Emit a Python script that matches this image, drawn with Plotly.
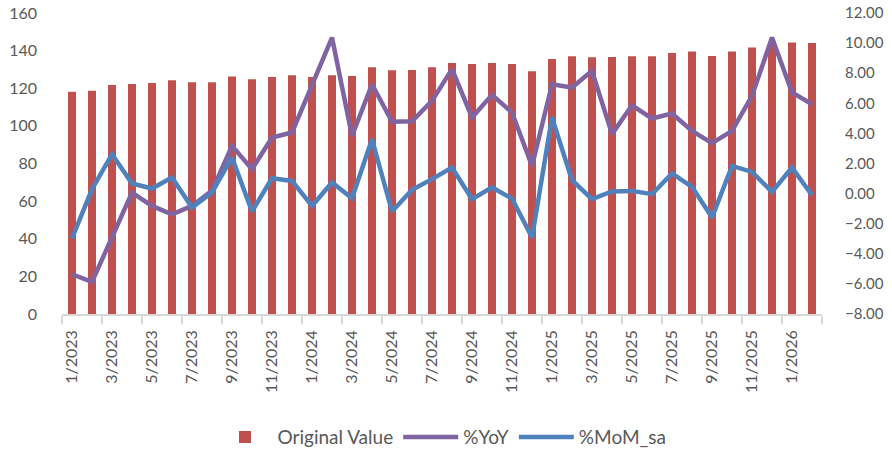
import plotly.graph_objects as go

months = [f"{m}/{y}" for y in (2023, 2024, 2025) for m in range(1, 13)] + ["1/2026", "2/2026"]

original_value = [118.2, 118.7, 121.7, 122.3, 122.8, 124.2, 123.2, 123.2, 126.2, 124.8,
                  126.0, 126.9, 126.0, 126.9, 126.5, 131.1, 129.6, 129.7, 131.1, 133.4,
                  132.9, 133.4, 132.9, 129.0, 135.6, 137.0, 136.5, 136.6, 137.0, 137.0,
                  138.8, 139.5, 137.2, 139.6, 141.6, 143.5, 144.3, 144.1]

yoy = [-5.36, -5.87, -2.9, 0.07, -0.82, -1.37, -0.82, 0.2, 3.17, 1.62,
       3.73, 4.06, 7.2, 10.37, 3.83, 7.27, 4.77, 4.81, 6.16, 8.27,
       5.06, 6.56, 5.39, 1.84, 7.27, 7.05, 8.16, 3.95, 5.87, 4.99,
       5.32, 4.17, 3.35, 4.17, 6.49, 10.37, 6.72, 5.94]

mom_sa = [-2.98, 0.29, 2.62, 0.67, 0.34, 1.07, -0.92, 0.07, 2.40, -1.19,
          1.02, 0.84, -0.82, 0.74, -0.31, 3.61, -1.19, 0.25, 0.96, 1.73,
          -0.37, 0.41, -0.33, -2.92, 5.06, 0.89, -0.37, 0.14, 0.18, -0.04,
          1.34, 0.45, -1.59, 1.84, 1.44, 0.11, 1.73, -0.11]

idx = list(range(len(months)))
tick_idx = idx[::2]
tick_text = months[::2]

FONT = "Lato"
GREY = "#595959"

fig = go.Figure()
fig.add_trace(go.Bar(x=idx, y=original_value, name="Original Value",
                     marker=dict(color="#C0504D", line=dict(width=0)), width=0.4))
fig.add_trace(go.Scatter(x=idx, y=yoy, name="%YoY", mode="lines", yaxis="y2",
                         line=dict(color="#8064A2", width=4.5)))
fig.add_trace(go.Scatter(x=idx, y=mom_sa, name="%MoM_sa", mode="lines", yaxis="y2",
                         line=dict(color="#4F81BD", width=4.5)))

fig.update_layout(
    width=892, height=455,
    margin=dict(l=62, r=70, t=13, b=141, autoexpand=False),
    paper_bgcolor="white", plot_bgcolor="white",
    font=dict(family=FONT, size=16, color=GREY),
    showlegend=True,
    legend=dict(orientation="h", x=0.5, xanchor="center", y=-0.409, yanchor="middle",
                font=dict(family=FONT, size=19, color=GREY), traceorder="normal",
                itemwidth=55),
    xaxis=dict(
        range=[-0.5, len(months) - 0.5], automargin=False,
        tickmode="array", tickvals=tick_idx, ticktext=tick_text,
        tickangle=-90, ticks="", showgrid=False, zeroline=False,
        showline=True, linecolor="#D9D9D9", linewidth=1.5, ticklabelstandoff=8,
        minor=dict(ticks="outside", tick0=-0.5, dtick=2, ticklen=8,
                   tickcolor="#D9D9D9", tickwidth=1.5, showgrid=False),
        tickfont=dict(family=FONT, size=16, color=GREY),
    ),
    yaxis=dict(
        range=[0, 160], dtick=20, showgrid=False, zeroline=False, showline=False,
        ticks="", ticklabelstandoff=24, automargin=False,
        tickfont=dict(family=FONT, size=16, color=GREY),
    ),
    yaxis2=dict(
        range=[-8, 12], dtick=2, overlaying="y", side="right", tickformat=".2f",
        showgrid=False, zeroline=False, showline=False, ticks="", ticklabelstandoff=22,
        automargin=False,
        tickfont=dict(family=FONT, size=15, color=GREY),
    ),
)

# remove the browser's default 8px body margin so the figure fills the window exactly
fig.write_html("out.html", config={"displayModeBar": False},
               post_script="document.body.style.margin='0px';")
